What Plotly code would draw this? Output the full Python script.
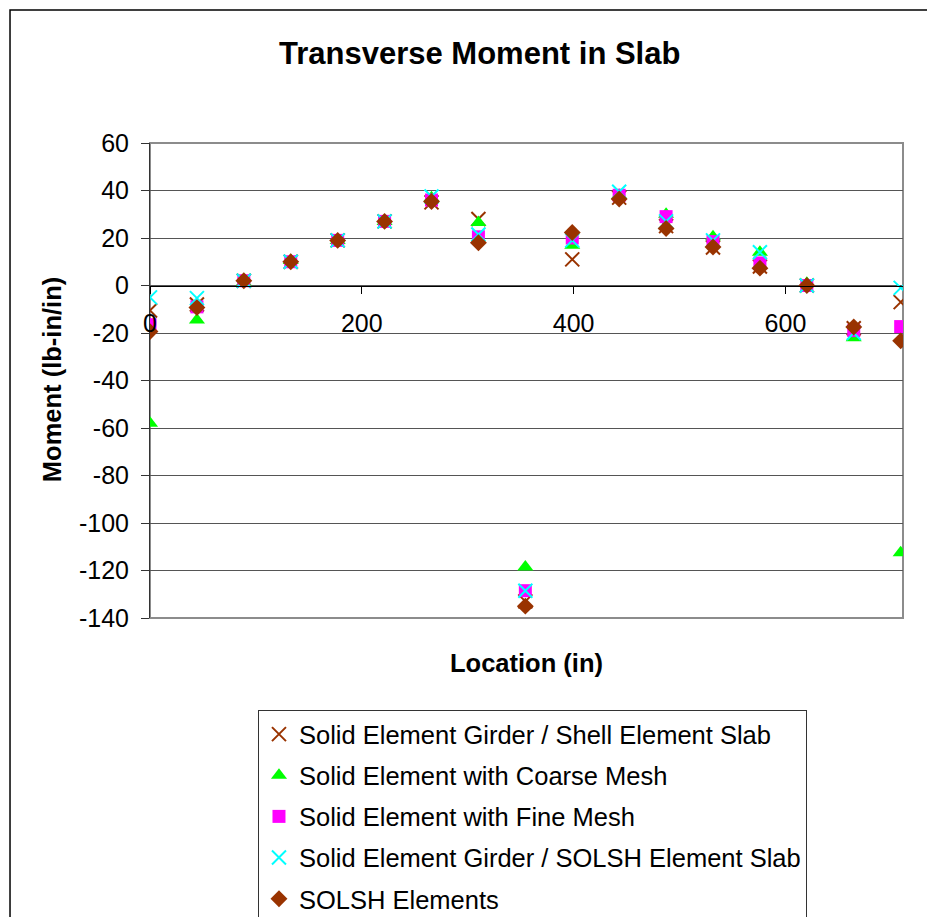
import plotly.graph_objects as go

# Data
location = [0, 44.3, 88.6, 132.9, 177.2, 221.5, 265.8, 310.1, 354.4, 398.7,
            443.0, 487.3, 531.6, 575.9, 620.2, 664.5, 708.8]
shell_slab = [-10.5, -8, 2, 10, 19, 27, 35, 28, -133, 11, 37, 25, 16, 8, 0, -18, -7]
coarse_mesh = [-58, -14.5, 1.5, 10.5, 19, 27, 37, 26.5, -118.5, 17, 38, 30, 20.5, 14, 1, -22, -112.5]
fine_mesh = [-16.5, -9, 2, 10, 19, 27, 36, 20.5, -128.5, 20, 38, 29, 18.5, 9.5, 0, -19, -17.3]
solsh_slab = [-5, -5.3, 2, 10, 19, 27, 37.5, 21.5, -128.5, 19, 39.5, 27, 19, 14, 0, -20, -1]
solsh = [-19.4, -9.3, 2, 10, 19, 27, 35.4, 18, -135, 22.3, 36.4, 24, 16.2, 7.3, 0, -17.5, -23.3]

series_names = ["Solid Element Girder / Shell Element Slab",
                "Solid Element with Coarse Mesh",
                "Solid Element with Fine Mesh",
                "Solid Element Girder / SOLSH Element Slab",
                "SOLSH Elements"]

x_tick_values = [0, 200, 400, 600]
x_tick_labels = ["0", "200", "400", "600"]
y_tick_values = [60, 40, 20, 0, -20, -40, -60, -80, -100, -120, -140]
y_tick_labels = ["60", "40", "20", "0", "-20", "-40", "-60", "-80", "-100", "-120", "-140"]

FONT = "Arial, 'Liberation Sans', sans-serif"

fig = go.Figure()
fig.add_trace(go.Scatter(x=location, y=shell_slab, mode="markers", name=series_names[0],
                         legendgroup="a",
                         marker=dict(symbol="x-thin-open", size=14, color="#993300",
                                     line=dict(color="#993300", width=2))))
fig.add_trace(go.Scatter(x=location, y=coarse_mesh, mode="markers", name=series_names[1],
                         legendgroup="b",
                         marker=dict(symbol="triangle-up", size=14, color="#00FF00",
                                     line=dict(width=0))))
fig.add_trace(go.Scatter(x=location, y=fine_mesh, mode="markers", name=series_names[2],
                         legendgroup="c",
                         marker=dict(symbol="square", size=13, color="#FF00FF",
                                     line=dict(width=0))))
fig.add_trace(go.Scatter(x=location, y=solsh_slab, mode="markers", name=series_names[3],
                         legendgroup="d",
                         marker=dict(symbol="x-thin-open", size=14, color="#00FFFF",
                                     line=dict(color="#00FFFF", width=2))))
fig.add_trace(go.Scatter(x=location, y=solsh, mode="markers", name=series_names[4],
                         legendgroup="e",
                         marker=dict(symbol="diamond", size=13, color="#993300",
                                     line=dict(width=0))))

fig.update_layout(
    width=927, height=909,
    margin=dict(l=142, r=32, t=135, b=299, autoexpand=False),
    paper_bgcolor="white", plot_bgcolor="white",
    font=dict(family=FONT, size=25, color="black"),
    showlegend=True,
    legend=dict(x=0.1434, y=-0.1937, xanchor="left", yanchor="top",
                bordercolor="#333333", borderwidth=1, bgcolor="white",
                font=dict(family=FONT, size=25.5, color="black"),
                traceorder="grouped", tracegroupgap=5),
    xaxis=dict(range=[0, 711], tickvals=x_tick_values, ticktext=x_tick_labels,
               anchor="free", position=0.7, showline=True, linecolor="black", linewidth=1,
               ticks="outside", ticklen=7, tickcolor="black", showgrid=False, zeroline=False,
               ticklabelstandoff=8, tickfont=dict(size=25), automargin=False),
    yaxis=dict(range=[-140, 60], tickvals=y_tick_values, ticktext=y_tick_labels,
               showline=True, linecolor="#333333", linewidth=1,
               ticks="outside", ticklen=8, tickcolor="#333333", showgrid=True,
               gridcolor="#555555", gridwidth=1, zeroline=False,
               ticklabelstandoff=7, tickfont=dict(size=25), automargin=False),
    shapes=[
        dict(type="rect", xref="paper", yref="paper", x0=0, x1=1, y0=0, y1=1,
             line=dict(color="#8c8c8c", width=2), layer="below"),
        dict(type="rect", xref="paper", yref="paper", x0=-0.1859, x1=1.3, y0=-0.9, y1=1.2800,
             line=dict(color="black", width=1.5), layer="below"),
    ],
    annotations=[
        dict(text="<b>Transverse Moment in Slab</b>", xref="paper", yref="paper",
             x=0.437, y=1.189, xanchor="center", yanchor="middle", showarrow=False,
             font=dict(family=FONT, size=31, color="black")),
        dict(text="<b>Moment (lb-in/in)</b>", xref="paper", yref="paper",
             x=-0.130, y=0.501, xanchor="center", yanchor="middle", showarrow=False,
             textangle=-90, font=dict(family=FONT, size=25.5, color="black")),
        dict(text="<b>Location (in)</b>", xref="paper", yref="paper",
             x=0.5, y=-0.0947, xanchor="center", yanchor="middle", showarrow=False,
             font=dict(family=FONT, size=25.5, color="black")),
    ],
)

fig.write_html("out.html")
